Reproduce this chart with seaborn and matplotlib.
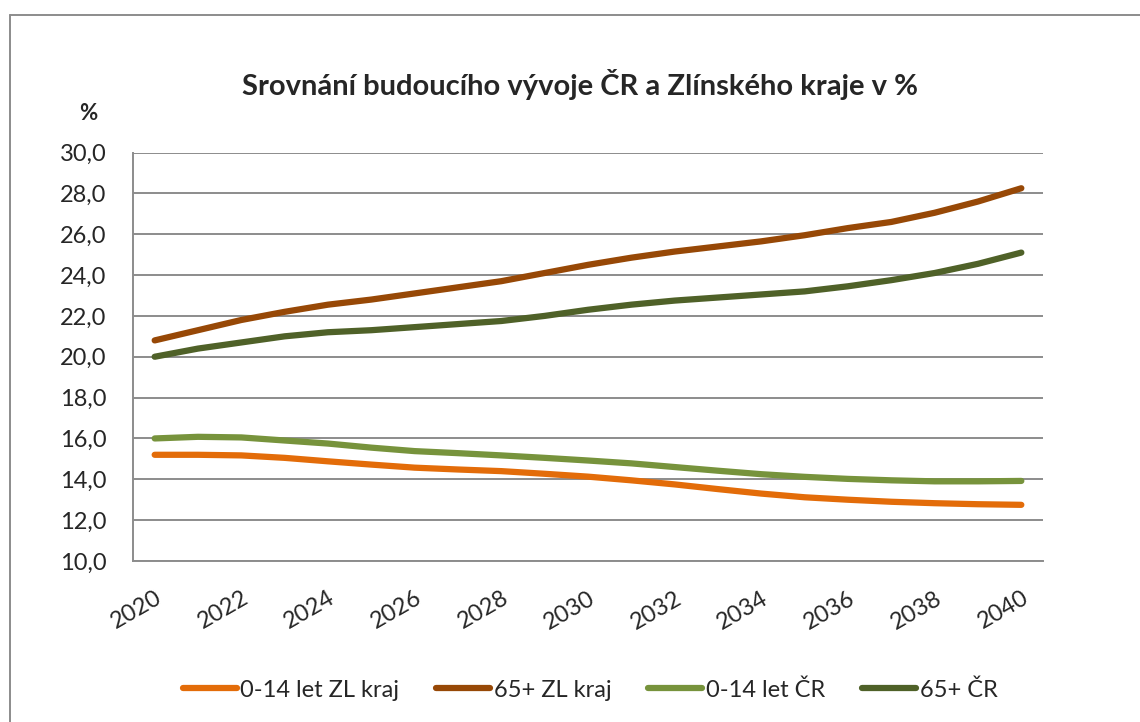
import numpy as np
import pandas as pd
import seaborn as sns
import matplotlib.pyplot as plt
from matplotlib.lines import Line2D
from matplotlib.ticker import FuncFormatter

# data (share of population in %)
roky = list(range(2020, 2041))
deti_zl = [15.2, 15.2, 15.17, 15.05, 14.88, 14.72, 14.57, 14.48, 14.4, 14.27, 14.13,
           13.95, 13.75, 13.52, 13.3, 13.12, 13.0, 12.9, 12.83, 12.78, 12.75]
seniori_zl = [20.8, 21.3, 21.8, 22.2, 22.55, 22.8, 23.1, 23.4, 23.7, 24.1, 24.5,
              24.85, 25.15, 25.4, 25.65, 25.95, 26.3, 26.6, 27.05, 27.6, 28.25]
deti_cr = [16.0, 16.08, 16.05, 15.9, 15.75, 15.55, 15.38, 15.28, 15.17, 15.05, 14.92,
           14.78, 14.6, 14.42, 14.25, 14.12, 14.02, 13.95, 13.9, 13.9, 13.92]
seniori_cr = [20.0, 20.4, 20.7, 21.0, 21.2, 21.3, 21.45, 21.6, 21.75, 22.0, 22.3,
              22.55, 22.75, 22.9, 23.05, 23.2, 23.45, 23.75, 24.1, 24.55, 25.1]

nazvy = ["0-14 let ZL kraj", "65+ ZL kraj", "0-14 let ČR", "65+ ČR"]
barvy = ["#E36C09", "#974806", "#77933C", "#4F6128"]

df = pd.DataFrame({
    "rok": roky * 4,
    "hodnota": deti_zl + seniori_zl + deti_cr + seniori_cr,
    "rada": [n for n in nazvy for _ in roky],
})

sns.set_style("white")
plt.rcParams["font.family"] = ["Lato", "DejaVu Sans"]

fig = plt.figure(figsize=(11.4, 7.22), dpi=100)
ax = fig.add_axes([133 / 1140, 1 - 561 / 722, 910 / 1140, 408.5 / 722])

sns.lineplot(data=df, x="rok", y="hodnota", hue="rada", hue_order=nazvy,
             palette=dict(zip(nazvy, barvy)), linewidth=4.5, ax=ax,
             solid_capstyle="round")

ax.set_xlim(2019.5, 2040.5)
ax.set_ylim(10, 30)
ax.set_yticks(np.arange(10, 31, 2))
ax.yaxis.set_major_formatter(FuncFormatter(lambda v, p: f"{v:.1f}".replace(".", ",")))
ax.set_xticks(roky[::2])
ax.tick_params(axis="y", length=0, pad=19, labelsize=17)
ax.tick_params(axis="x", length=0, pad=19, labelsize=17)
for lab in ax.get_xticklabels():
    lab.set_rotation(30)
    lab.set_ha("right")
    lab.set_va("top")
    lab.set_rotation_mode("anchor")

ax.grid(axis="y", color="#8c8c8c", linewidth=1.4)
ax.set_axisbelow(True)
for s in ["top", "right"]:
    ax.spines[s].set_visible(False)
for s in ["left", "bottom"]:
    ax.spines[s].set_color("#8c8c8c")
    ax.spines[s].set_linewidth(1.4)
ax.set_xlabel("")
ax.set_ylabel("")

# title and unit label
fig.text(579.5 / 1140, 1 - 85 / 722, "Srovnání budoucího vývoje ČR a Zlínského kraje v %",
         ha="center", va="center", fontsize=21, fontweight="bold")
fig.text(88 / 1140, 1 - 113 / 722, "%", ha="center", va="center",
         fontsize=16, fontweight="bold")

# legend at the bottom
handles, labels = ax.get_legend_handles_labels()
ax.get_legend().remove()
for h in handles:
    h.set_linewidth(4.5)
fig.legend(handles, labels, loc="center", bbox_to_anchor=(590 / 1140, 1 - 690 / 722),
           ncol=4, frameon=False, fontsize=17, handlelength=2.3,
           handletextpad=0.15, columnspacing=1.55)

# chart area border (top and left edges visible)
fig.add_artist(Line2D([10 / 1140, 1.0], [1 - 15 / 722, 1 - 15 / 722],
                      transform=fig.transFigure, color="#8c8c8c", linewidth=1.4))
fig.add_artist(Line2D([10 / 1140, 10 / 1140], [0.0, 1 - 15 / 722],
                      transform=fig.transFigure, color="#8c8c8c", linewidth=1.4))

fig.savefig("out.png", dpi=100)
